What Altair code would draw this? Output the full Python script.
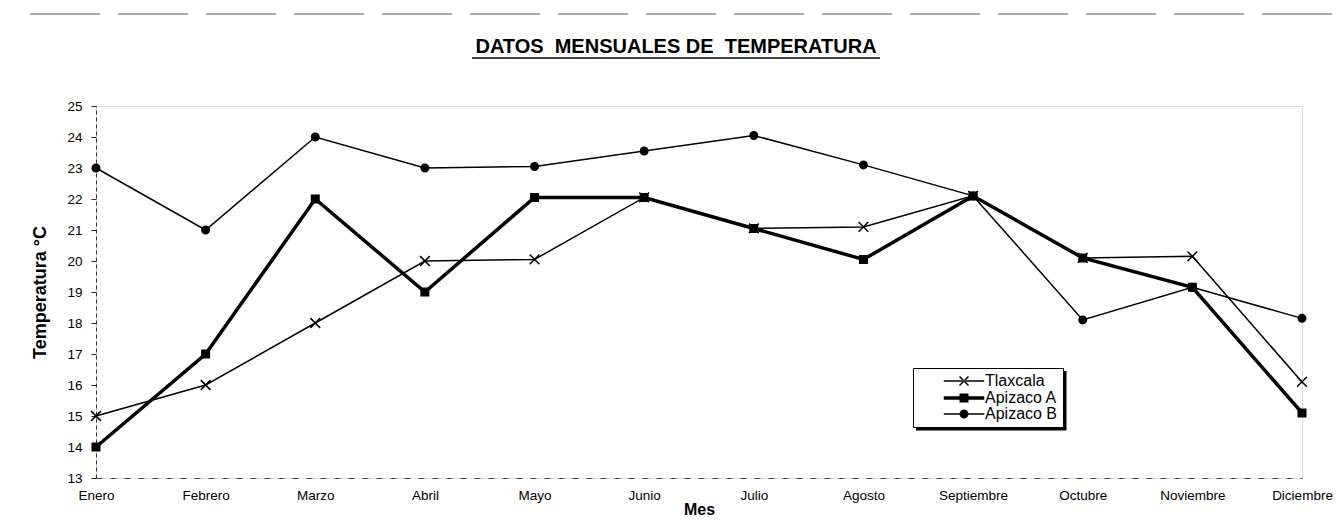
import altair as alt
import pandas as pd

meses = ["Enero", "Febrero", "Marzo", "Abril", "Mayo", "Junio", "Julio",
         "Agosto", "Septiembre", "Octubre", "Noviembre", "Diciembre"]
series = ["Tlaxcala", "Apizaco A", "Apizaco B"]
tlaxcala = [15, 16, 18, 20, 20.05, 22.05, 21.05, 21.1, 22.1, 20.1, 20.15, 16.1]
apizaco_a = [14, 17, 22, 19, 22.05, 22.05, 21.05, 20.05, 22.1, 20.1, 19.15, 15.1]
apizaco_b = [23, 21, 24, 23, 23.05, 23.55, 24.05, 23.1, 22.1, 18.1, 19.15, 18.15]
y_ticks = list(range(13, 26))
titulo = "DATOS\u00a0 MENSUALES DE\u00a0 TEMPERATURA"

rows = []
for name, vals in zip(series, [tlaxcala, apizaco_a, apizaco_b]):
    for m, v in zip(meses, vals):
        rows.append({"Mes": m, "Serie": name, "Temp": v})
df = pd.DataFrame(rows)

FONT = "Liberation Sans"
W, H = 1206, 372

x_enc = alt.X(
    "Mes:N", sort=meses,
    scale=alt.Scale(type="point", padding=0),
    axis=alt.Axis(title="Mes", labelAngle=0, ticks=False, labelPadding=10,
                  labelFont=FONT, labelFontSize=13.5, labelColor="black",
                  titleFont=FONT, titleFontSize=16, titleFontWeight="bold",
                  titleColor="black", titlePadding=0, grid=False,
                  domainColor="#444", domainDash=[6, 8], domainWidth=1),
)
y_enc = alt.Y(
    "Temp:Q",
    scale=alt.Scale(domain=[13, 25], nice=False, zero=False),
    axis=alt.Axis(title="Temperatura °C", values=y_ticks, tickSize=5,
                  labelPadding=9, labelFont=FONT, labelFontSize=13.5,
                  labelColor="black", titleFont=FONT, titleFontSize=18,
                  titleFontWeight="bold", titleColor="black", titlePadding=17,
                  grid=False, domainColor="#333", domainDash=[4, 3],
                  domainWidth=1, tickColor="#333"),
)

base = alt.Chart(df).encode(x=x_enc, y=y_enc)

thin = base.transform_filter(
    alt.FieldOneOfPredicate(field="Serie", oneOf=["Tlaxcala", "Apizaco B"])
).mark_line(color="black", strokeWidth=1.5).encode(detail="Serie:N")

thick = base.transform_filter(
    alt.FieldEqualPredicate(field="Serie", equal="Apizaco A")
).mark_line(color="black", strokeWidth=3.5)

X_PATH = "M-1.3,-1.3L1.3,1.3M-1.3,1.3L1.3,-1.3"
pts = base.mark_point(filled=True, fill="black", stroke="black",
                      strokeWidth=1.5, size=56, opacity=1).encode(
    shape=alt.Shape("Serie:N",
                    scale=alt.Scale(domain=series, range=[X_PATH, "square", "circle"]),
                    legend=None)
)

# legend symbols drawn as filled outlines (line segment + marker)
LINE_THIN = "M-4.5,-0.17H4.5V0.17H-4.5Z"
LEG_X = (LINE_THIN + "M-1.12,-0.88L0.88,1.12L1.12,0.88L-0.88,-1.12Z"
         "M-0.88,1.12L1.12,-0.88L0.88,-1.12L-1.12,0.88Z")
LEG_SQ = "M-4.5,-0.38H4.5V0.38H-4.5ZM-1,-1H1V1H-1Z"
LEG_CI = LINE_THIN + "M1,0A1,1,0,1,1,-1,0A1,1,0,1,1,1,0Z"

leg = base.mark_point(filled=True, fill="black", stroke="black",
                      strokeWidth=1.5, size=81, opacity=0).encode(
    shape=alt.Shape(
        "Serie:N",
        scale=alt.Scale(domain=series, range=[LEG_X, LEG_SQ, LEG_CI]),
        legend=alt.Legend(
            title=None, orient="none", legendX=817, legendY=262,
            labelFont=FONT, labelFontSize=16, labelColor="black",
            symbolSize=81, symbolOffset=38, labelOffset=13,
            symbolFillColor="black", symbolStrokeColor="black",
            symbolStrokeWidth=1.5, symbolOpacity=1,
            rowPadding=0, padding=5, strokeColor="black", fillColor="white",
        ),
    )
)

one = pd.DataFrame({"k": [0]})
title_txt = alt.Chart(one).mark_text(
    font=FONT, fontSize=20, fontWeight="bold", color="black",
    align="center", baseline="alphabetic"
).encode(x=alt.value(580), y=alt.value(-53), text=alt.value(titulo))
underline = alt.Chart(one).mark_rule(color="black", strokeWidth=1.5).encode(
    x=alt.value(376), x2=alt.value(784), y=alt.value(-48)
)
topline = alt.Chart(one).mark_rule(color="#555", strokeWidth=1.2,
                                   strokeDash=[70, 18]).encode(
    x=alt.value(-66), x2=alt.value(1240), y=alt.value(-92)
)
# drop shadow of the legend box
shadow_r = alt.Chart(one).mark_rule(color="black", strokeWidth=3).encode(
    x=alt.value(969), y=alt.value(265), y2=alt.value(324)
)
shadow_b = alt.Chart(one).mark_rule(color="black", strokeWidth=3).encode(
    x=alt.value(820), x2=alt.value(970), y=alt.value(323)
)

chart = alt.layer(thin, thick, pts, leg, title_txt, underline, topline,
                  shadow_r, shadow_b).resolve_scale(
    shape="independent"
).properties(
    width=W, height=H,
    autosize=alt.AutoSizeParams(type="none"),
    padding={"left": 88, "top": 98, "right": 33, "bottom": 40},
).configure_view(stroke=None).configure(background="white")

chart.save("out.html", embed_options={"renderer": "svg", "actions": False})
